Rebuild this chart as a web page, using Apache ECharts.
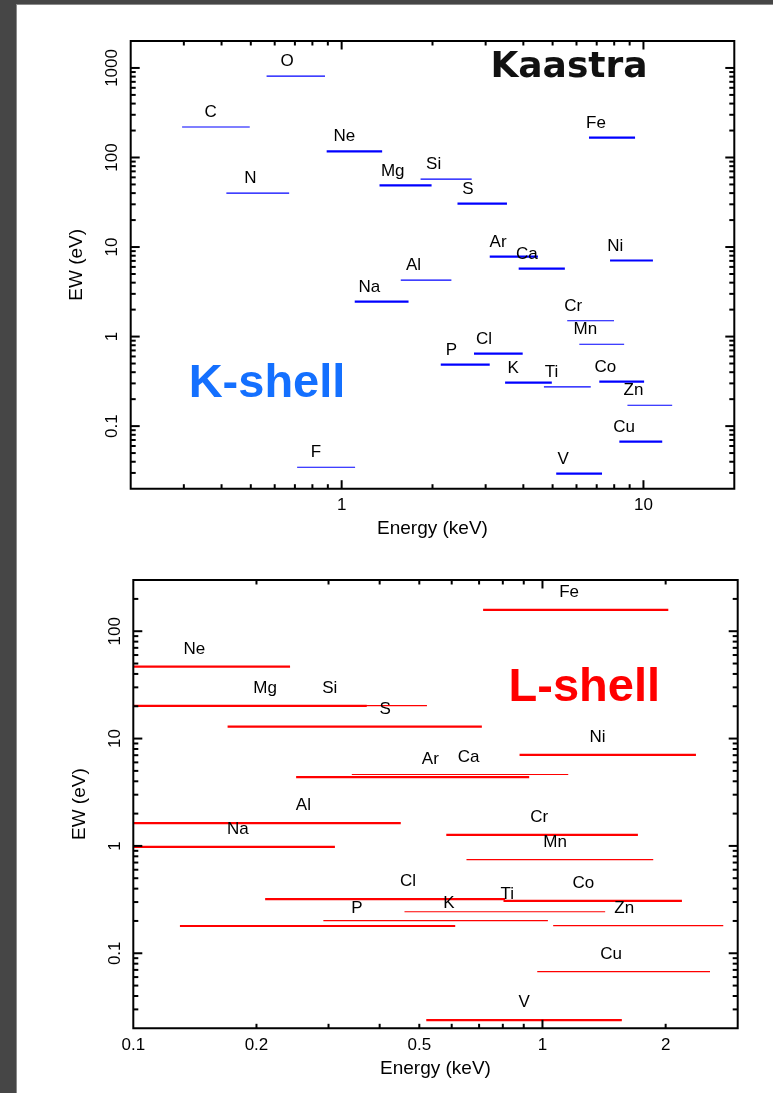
<!DOCTYPE html>
<html><head><meta charset="utf-8">
<script src="https://cdn.jsdelivr.net/npm/echarts@6/dist/echarts.min.js"></script>
<style>html,body{margin:0;padding:0;background:#fff}#c{width:773px;height:1093px}</style>
</head><body><div id="c"></div>
<script>
// ---------- K-shell (top panel) ----------
const kNames  = ['O','C','N','Ne','Mg','Si','S','Fe','Ar','Ca','Ni','Al','Na','Cr','Mn','Cl','P','K','Ti','Co','Zn','Cu','V','F'];
const kEmin   = [0.564,0.296,0.415,0.892,1.335,1.826,2.42,6.60,3.095,3.86,7.75,1.57,1.105,5.59,6.13,2.745,2.13,3.48,4.68,7.14,8.85,8.32,5.14,0.712];
const kEmax   = [0.881,0.496,0.670,1.362,1.986,2.697,3.53,9.38,4.47,5.49,10.75,2.31,1.666,7.99,8.63,3.98,3.095,4.97,6.69,10.05,12.45,11.54,7.29,1.108];
const kEW     = [811,219,40,117,48.7,57.4,30.6,167,7.83,5.75,7.07,4.27,2.46,1.50,0.822,0.646,0.487,0.306,0.274,0.314,0.171,0.0671,0.0295,0.0347];
const kLabelE = [0.659,0.368,0.498,1.021,1.477,2.017,2.622,6.965,3.298,4.108,8.07,1.730,1.236,5.853,6.416,2.963,2.309,3.70,4.963,7.478,9.265,8.627,5.424,0.822];
const kStrong = [0,0,0,1,1,0,1,1,1,1,1,0,1,0,0,1,1,1,0,1,0,1,1,0];

// ---------- L-shell (bottom panel) ----------
const lNames  = ['Fe','Ne','Mg','Si','S','Ar','Ca','Ni','Al','Na','Cr','Mn','Cl','Co','Ti','K','Zn','P','Cu','V'];
const lEmin   = [0.716,0.1,0.1,0.175,0.170,0.250,0.342,0.879,0.1,0.1,0.582,0.652,0.210,0.803,0.460,0.2914,1.062,0.130,0.971,0.520];
const lEmax   = [2.03,0.2416,0.372,0.522,0.711,0.928,1.156,2.372,0.4505,0.311,1.711,1.865,0.810,2.192,1.423,1.031,2.766,0.612,2.567,1.563];
const lEW     = [158,46.8,20.2,20.25,12.9,4.37,4.63,7.06,1.628,0.979,1.266,0.746,0.320,0.307,0.244,0.2014,0.181,0.1794,0.0674,0.0238];
const lLabelE = [1.162,0.141,0.210,0.302,0.4125,0.532,0.660,1.363,0.2604,0.180,0.982,1.074,0.469,1.259,0.820,0.591,1.584,0.352,1.472,0.902];
const lStrong = [1,1,1,0,1,1,0,1,1,1,1,0,1,1,0,0,0,1,0,1];

// ---------- axes ranges and ticks ----------
const topX = [0.2, 20], topY = [0.02, 2000];
const botX = [0.1, 3],  botY = [0.02, 300];
const topXMajor = [1, 10];
const topXMinor = [0.3,0.4,0.5,0.6,0.7,0.8,0.9,2,3,4,5,6,7,8,9];
const topXLabels = [1, 10];
const topYMajor = [0.1, 1, 10, 100, 1000];
const topYMinor = [0.03,0.04,0.05,0.06,0.07,0.08,0.09,0.2,0.3,0.4,0.5,0.6,0.7,0.8,0.9,2,3,4,5,6,7,8,9,20,30,40,50,60,70,80,90,200,300,400,500,600,700,800,900];
const topYLabels = [0.1, 1, 10, 100, 1000];
const botXMajor = [1];
const botXMinor = [0.2,0.3,0.4,0.5,0.6,0.7,0.8,0.9,2];
const botXLabels = [0.1, 0.2, 0.5, 1, 2];
const botYMajor = [0.1, 1, 10, 100];
const botYMinor = [0.03,0.04,0.05,0.06,0.07,0.08,0.09,0.2,0.3,0.4,0.5,0.6,0.7,0.8,0.9,2,3,4,5,6,7,8,9,20,30,40,50,60,70,80,90,200];
const botYLabels = [0.1, 1, 10, 100];

const FONT = '"Liberation Sans", Arial, sans-serif';

function segSeries(idx, names, emin, emax, ew, labE, strong, color, labOff) {
  return {
    type: 'custom', xAxisIndex: idx, yAxisIndex: idx, silent: true, clip: false, z: 5,
    data: names.map((n, i) => [emin[i], emax[i], ew[i], labE[i]]),
    encode: { x: [0, 1, 3], y: 2 },
    renderItem: function (params, api) {
      const i = params.dataIndex;
      const p1 = api.coord([api.value(0), api.value(2)]);
      const p2 = api.coord([api.value(1), api.value(2)]);
      const pl = api.coord([api.value(3), api.value(2)]);
      return { type: 'group', children: [
        { type: 'line', shape: { x1: p1[0], y1: p1[1], x2: p2[0], y2: p2[1] },
          style: { stroke: color, lineWidth: strong[i] ? 2.2 : 1.1 } },
        { type: 'text', x: pl[0], y: p1[1] - labOff,
          style: { text: names[i], fill: '#000', font: '17px ' + FONT,
                   align: 'center', verticalAlign: 'middle', textAlign: 'center', textVerticalAlign: 'middle' } }
      ]};
    }
  };
}

function axisSeries(idx, xr, yr, xMaj, xMin, xLab, yMaj, yMin, yLab) {
  const items = [];
  xMaj.forEach(v => items.push({ k: 'x', v: v, L: 8.5 }));
  xMin.forEach(v => items.push({ k: 'x', v: v, L: 4.5 }));
  yMaj.forEach(v => items.push({ k: 'y', v: v, L: 9 }));
  yMin.forEach(v => items.push({ k: 'y', v: v, L: 5 }));
  xLab.forEach(v => items.push({ k: 'xl', v: v }));
  yLab.forEach(v => items.push({ k: 'yl', v: v }));
  return {
    type: 'custom', xAxisIndex: idx, yAxisIndex: idx, silent: true, clip: false, z: 10,
    data: items.map(it => (it.k[0] === 'x' ? [it.v, yr[0]] : [xr[0], it.v])),
    renderItem: function (params, api) {
      const it = items[params.dataIndex];
      const bl = api.coord([xr[0], yr[0]]);
      const tr = api.coord([xr[1], yr[1]]);
      const st = { stroke: '#000', lineWidth: 2 };
      if (it.k === 'x') {
        const px = api.coord([it.v, yr[0]])[0];
        return { type: 'group', children: [
          { type: 'line', shape: { x1: px, y1: bl[1], x2: px, y2: bl[1] - it.L }, style: st },
          { type: 'line', shape: { x1: px, y1: tr[1], x2: px, y2: tr[1] + it.L }, style: st }
        ]};
      }
      if (it.k === 'y') {
        const py = api.coord([xr[0], it.v])[1];
        return { type: 'group', children: [
          { type: 'line', shape: { x1: bl[0], y1: py, x2: bl[0] + it.L, y2: py }, style: st },
          { type: 'line', shape: { x1: tr[0], y1: py, x2: tr[0] - it.L, y2: py }, style: st }
        ]};
      }
      if (it.k === 'xl') {
        const px = api.coord([it.v, yr[0]])[0];
        return { type: 'text', x: px, y: bl[1] + 17,
          style: { text: String(it.v), fill: '#000', font: '17px ' + FONT,
                   align: 'center', verticalAlign: 'middle', textAlign: 'center', textVerticalAlign: 'middle' } };
      }
      const py = api.coord([xr[0], it.v])[1];
      return { type: 'text', x: bl[0] - 18, y: py, rotation: Math.PI / 2,
        style: { text: String(it.v), fill: '#000', font: '17px ' + FONT,
                 align: 'center', verticalAlign: 'middle', textAlign: 'center', textVerticalAlign: 'middle' } };
    }
  };
}

const axisName = { color: '#000', fontSize: 19, fontFamily: FONT };
function xAx(idx, r) {
  return { type: 'log', logBase: 10, gridIndex: idx, min: r[0], max: r[1],
    name: 'Energy (keV)', nameLocation: 'middle', nameGap: 31, nameTextStyle: axisName,
    axisLine: { show: false }, axisTick: { show: false }, axisLabel: { show: false },
    splitLine: { show: false }, minorTick: { show: false } };
}
function yAx(idx, r) {
  return { type: 'log', logBase: 10, gridIndex: idx, min: r[0], max: r[1],
    name: 'EW (eV)', nameLocation: 'middle', nameGap: 44, nameTextStyle: axisName,
    axisLine: { show: false }, axisTick: { show: false }, axisLabel: { show: false },
    splitLine: { show: false }, minorTick: { show: false } };
}

const chart = echarts.init(document.getElementById('c'), null, { renderer: 'canvas' });
chart.setOption({
  animation: false,
  backgroundColor: '#fff',
  grid: [
    { left: 130.7, top: 41, width: 603.6, height: 447.7, show: true, borderColor: '#000', borderWidth: 2, backgroundColor: 'transparent', z: 10 },
    { left: 133.3, top: 580, width: 604.4, height: 448.3, show: true, borderColor: '#000', borderWidth: 2, backgroundColor: 'transparent', z: 10 }
  ],
  xAxis: [xAx(0, topX), xAx(1, botX)],
  yAxis: [yAx(0, topY), yAx(1, botY)],
  graphic: [
    { type: 'rect', shape: { x: 0, y: 0, width: 16, height: 1093 }, style: { fill: '#464646' }, silent: true },
    { type: 'rect', shape: { x: 0, y: 0, width: 773, height: 4 }, style: { fill: '#464646' }, silent: true },
    { type: 'rect', shape: { x: 16, y: 4, width: 1, height: 1089 }, style: { fill: '#8a8a8a' }, silent: true },
    { type: 'rect', shape: { x: 16, y: 4, width: 757, height: 1 }, style: { fill: '#8a8a8a' }, silent: true },
    { type: 'text', x: 569, y: 68, style: { text: 'Kaastra', font: 'bold 36px "DejaVu Sans", sans-serif', fill: '#111',
        align: 'center', verticalAlign: 'middle', textAlign: 'center', textVerticalAlign: 'middle' }, silent: true },
    { type: 'text', x: 267, y: 384, style: { text: 'K-shell', font: 'bold 47px "Liberation Sans", Arial, sans-serif', fill: '#1470FF',
        align: 'center', verticalAlign: 'middle', textAlign: 'center', textVerticalAlign: 'middle' }, silent: true },
    { type: 'text', x: 584.3, y: 688, style: { text: 'L-shell', font: 'bold 47px "Liberation Sans", Arial, sans-serif', fill: '#FF0000',
        align: 'center', verticalAlign: 'middle', textAlign: 'center', textVerticalAlign: 'middle' }, silent: true }
  ],
  series: [
    segSeries(0, kNames, kEmin, kEmax, kEW, kLabelE, kStrong, '#0000FF', 14.6),
    segSeries(1, lNames, lEmin, lEmax, lEW, lLabelE, lStrong, '#FF0000', 17.6),
    axisSeries(0, topX, topY, topXMajor, topXMinor, topXLabels, topYMajor, topYMinor, topYLabels),
    axisSeries(1, botX, botY, botXMajor, botXMinor, botXLabels, botYMajor, botYMinor, botYLabels)
  ]
});
</script></body></html>
